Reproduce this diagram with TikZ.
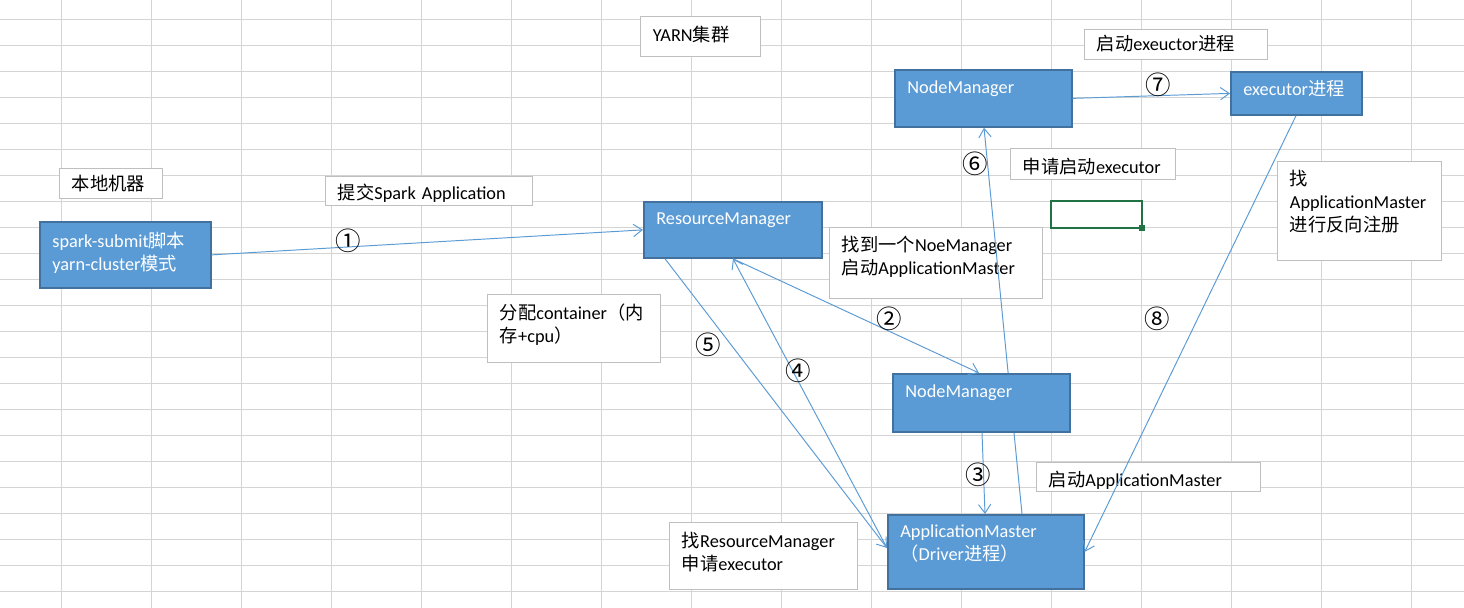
\documentclass[tikz,border=0pt]{standalone}
\usepackage{fontspec}
\setmainfont{Carlito}
\newfontfamily\cjk{Noto Sans CJK SC}
\usetikzlibrary{arrows.meta,calc}

\definecolor{blkfill}{HTML}{5B9BD5}
\definecolor{blkline}{HTML}{41719C}
\definecolor{lblline}{HTML}{BFBFBF}
\definecolor{gridgray}{HTML}{D4D4D4}
\definecolor{selgreen}{HTML}{217346}

\newcommand{\zh}[1]{{\cjk #1}}

\tikzset{
  cell/.style={draw=gridgray, line width=0.5pt},
  block/.style={draw=blkline, fill=blkfill, line width=1pt, text=white,
    anchor=north west, inner xsep=0.25cm, inner ysep=0pt, align=left,
    font=\fontsize{10.4}{13}\selectfont},
  note/.style={draw=lblline, fill=white, line width=0.5pt,
    anchor=north west, inner xsep=0.25cm, inner ysep=0pt, align=left,
    font=\fontsize{10.4}{13}\selectfont},
  sz/.style n args={3}{text width=#1cm, text height=#2cm, text depth=#3cm},
  stepno/.style={font=\cjk\fontsize{14.5}{16}\selectfont, inner sep=0pt},
  flow/.style={draw=blkfill, line width=0.55pt, -{Straight Barb[length=5pt,width=7pt]}},
}

\begin{document}
\begin{tikzpicture}[x=0.02cm, y=-0.02cm]
  \useasboundingbox (0,0) rectangle (1464,608);
  \fill[white] (0,0) rectangle (1464,608);
  % sheet grid
  \foreach \gx in {0,...,15}
    \draw[cell] ({61.3+90*\gx},0) -- ++(0,608);
  \foreach \gy in {0,...,22}
    \draw[cell] (0,{19.3+26*\gy}) -- ++(1464,0);
  \draw[selgreen, line width=1.2pt] (1051,201) rectangle (1142,228);
  \fill[selgreen] (1139,225) rectangle (1145,231);

  % text boxes
  \node[note, sz={1.56}{0.44}{0.16}] (local) at (59,168) {\zh{本地机器}};
  \node[note, sz={3.64}{0.46}{0.12}] (submitlbl) at (325,176) {\zh{提交}Spark Application};
  \node[note, sz={1.90}{0.50}{0.30}] (yarn) at (640,16) {YARN\zh{集群}};
  \node[note, sz={3.16}{0.42}{0.18}] (startexec) at (1084,29) {\zh{启动}exeuctor\zh{进程}};
  \node[note, sz={2.80}{0.50}{0.12}] (applyexec) at (1010,148) {\zh{申请启动}executor};
  \node[note, sz={2.78}{0.48}{1.50}] (register) at (1277,161) {\zh{找}\\ApplicationMaster\\\zh{进行反向注册}};
  \node[note, sz={3.76}{0.48}{0.94}] (findnm) at (829,227) {\zh{找到一个}NoeManager\\\zh{启动}ApplicationMaster};
  \node[note, sz={2.96}{0.50}{0.86}] (container) at (487,294) {\zh{分配}container\zh{（内}\\\zh{存}+cpu\zh{）}};
  \node[note, sz={3.26}{0.50}{0.84}] (findrm) at (669,522) {\zh{找}ResourceManager\\\zh{申请}executor};
  \node[note, sz={3.98}{0.48}{0.10}] (startam) at (1036,462) {\zh{启动}ApplicationMaster};

  % processes
  \node[block, sz={3.04}{0.48}{0.66}] (nmtop) at (894,69) {NodeManager};
  \node[block, sz={3.42}{0.46}{1.02}] (am) at (887,514) {ApplicationMaster\\\zh{（}Driver\zh{进程）}};
  \draw[flow] ($(am.north west)+(135,0)$) -- ($(nmtop.south west)+(90,0)$);
  \node[block, sz={3.04}{0.48}{0.68}] (nmbot) at (892,373) {NodeManager};
  \node[block, sz={3.06}{0.46}{0.66}] (rm) at (643,201) {ResourceManager};
  \node[block, sz={2.92}{0.52}{0.80}] (submit) at (39,221) {spark-submit\zh{脚本}\\yarn-cluster\zh{模式}};
  \node[block, sz={2.12}{0.48}{0.38}] (exec) at (1230,71) {executor\zh{进程}};

  \draw[flow] (submit.east) -- (rm.west);
  \draw[flow] ($(rm.south west)+(90,0)$) -- ($(nmbot.north west)+(87,0)$);
  \draw[flow] ($(nmbot.south west)+(90,0)$) -- ($(am.north west)+(98,0)$);
  \draw[flow] ($(am.north west)+(0,34)$) -- ($(rm.south west)+(90,0)$);
  \draw[flow] ($(rm.south west)+(22,0)$) -- ($(am.north west)+(0,34)$);
  \draw[flow] (nmtop.east) -- (exec.west);
  \draw[flow] ($(exec.south west)+(66,0)$) -- (am.east);

  \node[stepno] (s1) at (348,241) {①};
  \node[stepno] (s2) at (889,319) {②};
  \node[stepno] (s3) at (978,475) {③};
  \node[stepno] (s4) at (798,371) {④};
  \node[stepno] (s5) at (708,345) {⑤};
  \node[stepno] (s6) at (975,164) {⑥};
  \node[stepno] (s7) at (1158,85) {⑦};
  \node[stepno] (s8) at (1157,319) {⑧};
\end{tikzpicture}
\end{document}
